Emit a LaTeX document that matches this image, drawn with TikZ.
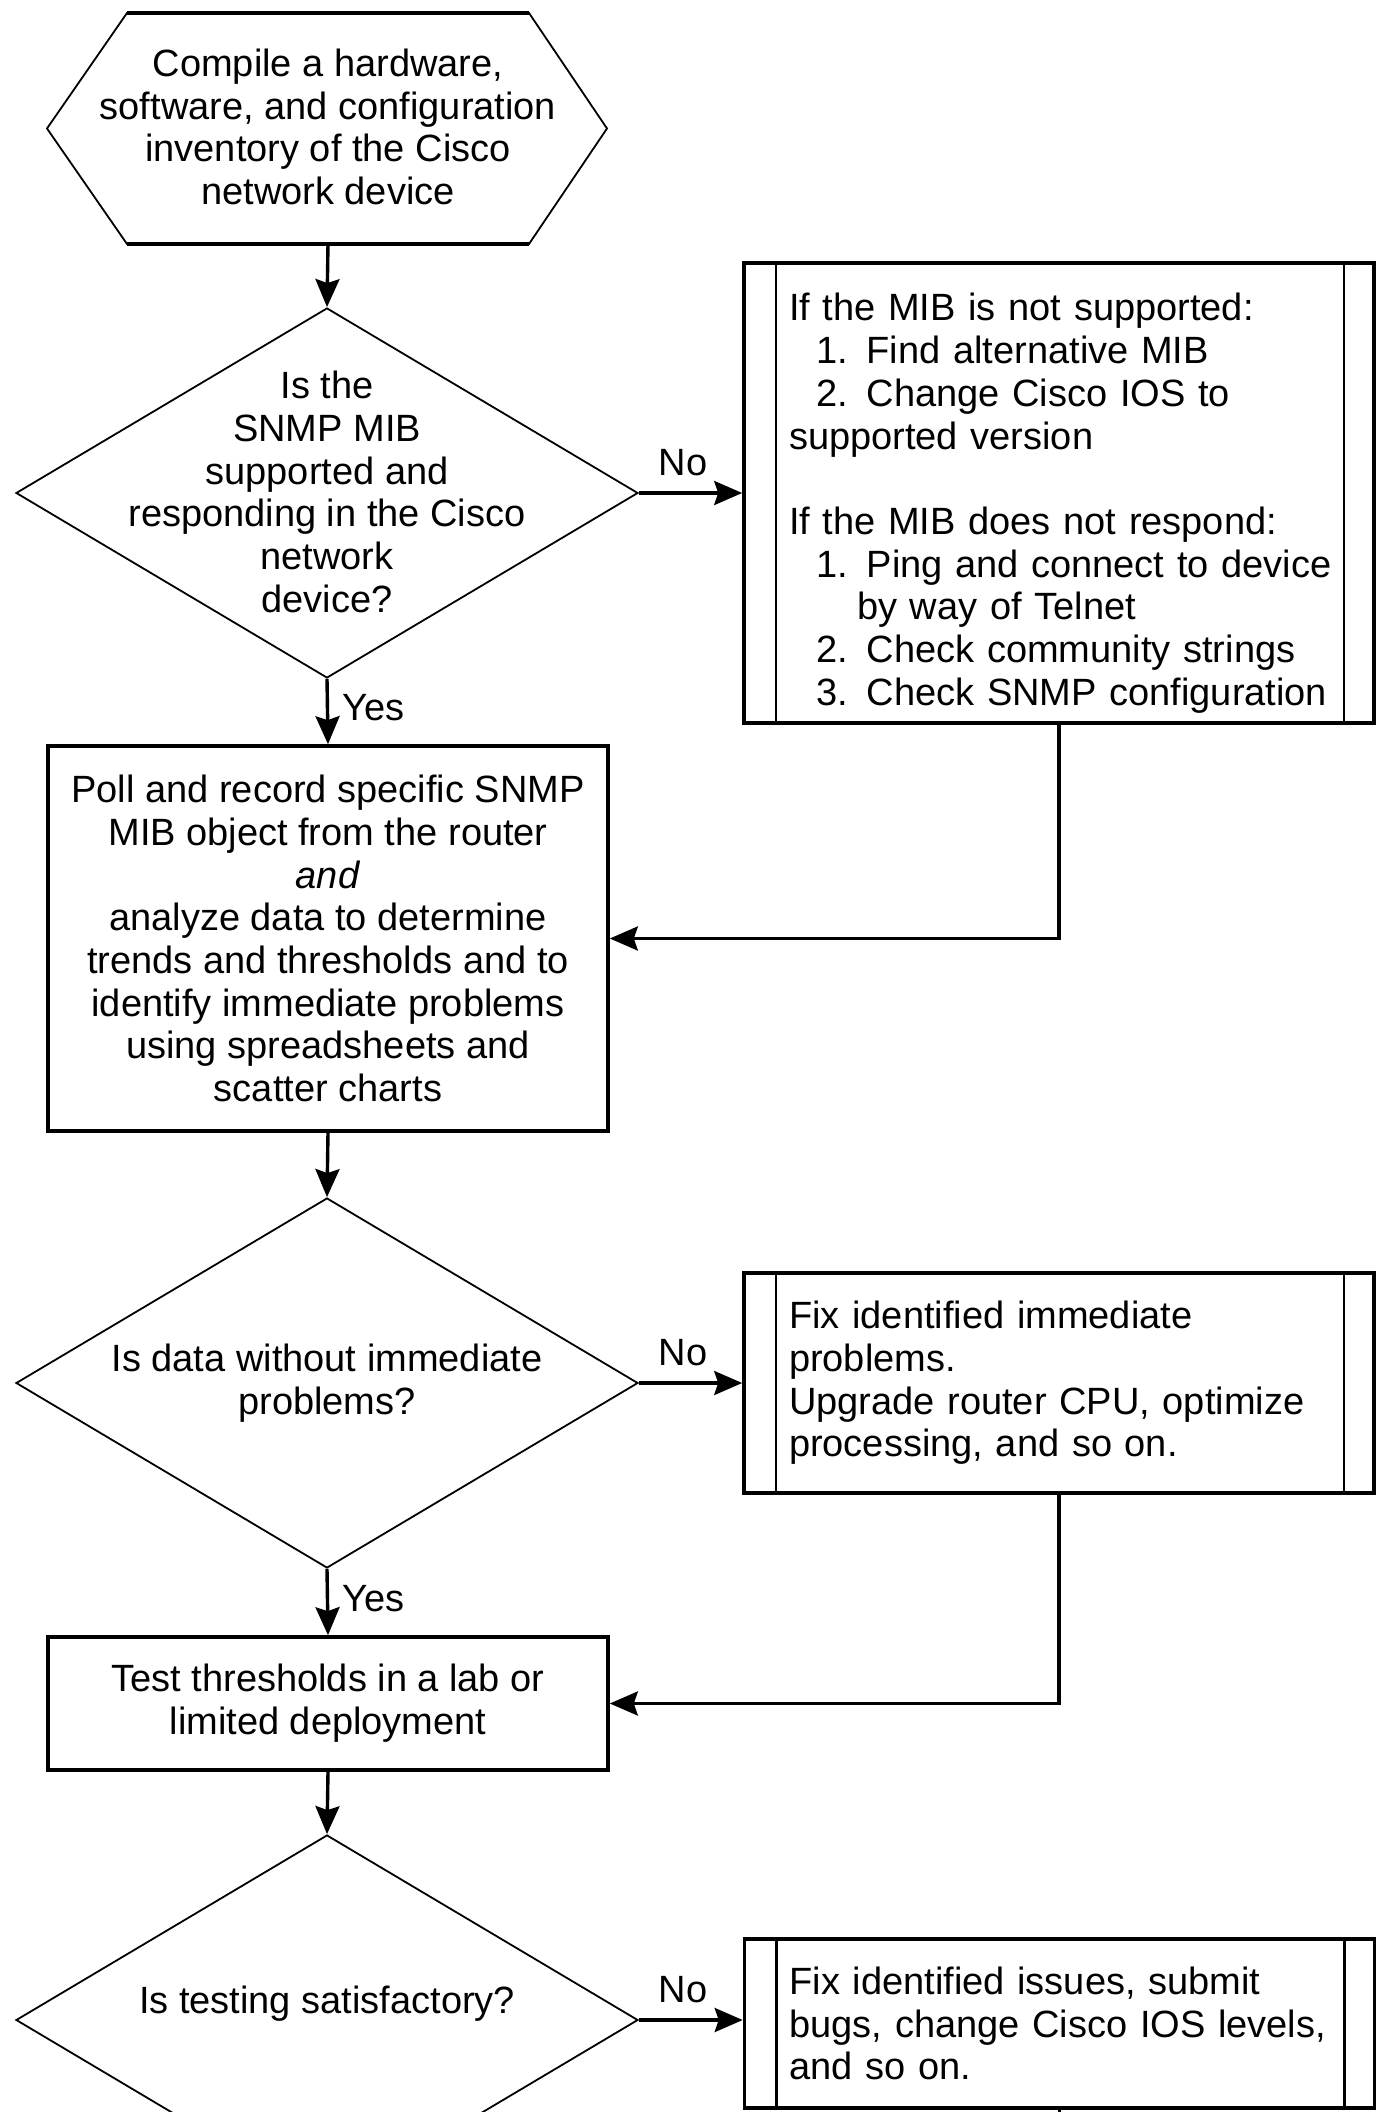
\documentclass[tikz,border=0pt]{standalone}
\usepackage{fontspec}
\setmainfont{Liberation Sans}
\usetikzlibrary{shapes.geometric,arrows.meta}
\begin{document}
\tikzset{
  txt/.style={font=\fontsize{19pt}{21.35pt}\selectfont},
  box/.style={draw, rectangle, line width=1.8pt, minimum width=280pt, align=center, txt, inner sep=0pt},
  proc/.style={draw, rectangle, line width=1.8pt, minimum width=315pt, text width=270pt,
    inner xsep=22.5pt, inner ysep=0pt, align=left, txt,
    path picture={
      \draw[line width=1.4pt] ([xshift=16pt]path picture bounding box.north west) -- ([xshift=16pt]path picture bounding box.south west);
      \draw[line width=1.4pt] ([xshift=-15pt]path picture bounding box.north east) -- ([xshift=-15pt]path picture bounding box.south east);
    }},
  decision/.style={draw, diamond, line width=0.9pt, minimum width=311pt, minimum height=185pt, inner sep=0pt},
  conn/.style={line width=1.7pt, -{Stealth[length=14pt,width=12pt,inset=2pt]}},
  plain/.style={line width=1.7pt},
  lbl/.style={txt, inner sep=0pt},
  dtext/.style={txt, align=center, inner sep=0pt},
}
\begin{tikzpicture}[x=0.5pt,y=-0.5pt]
\useasboundingbox (0,0) rectangle (1377,2112);
\fill[white] (0,0) rectangle (1377,2112);
\clip (0,0) rectangle (1377,2112);

% start hexagon
\draw[line width=0.9pt] (127,13) -- (529,13) -- (607,128.5) -- (529,244) -- (127,244) -- (47,128.5) -- cycle;
\draw[line width=1.8pt] (127,13) -- (529,13) (127,244) -- (529,244);
\node[dtext] (start) at (328,127) {Compile a hardware,\\ software, and configuration\\ inventory of the Cisco\\ network device};
\coordinate (startbot) at (328,244);

% decision 1
\node[decision] (d1) at (327,493) {};
\node[dtext] (d1t) at (327,492) {Is the\\ SNMP MIB\\ supported and\\ responding in the Cisco\\ network\\ device?};

% process 1
\node[proc, minimum height=230pt] (p1) at (1059,493) {\mbox{\rule{0pt}{24pt}If the MIB is not supported:}\\
\mbox{\hspace*{13.5pt}1. Find alternative MIB}\\
\mbox{\hspace*{13.5pt}2. Change Cisco IOS to}\\
\mbox{supported version}\\[21.35pt]
\mbox{If the MIB does not respond:}\\
\mbox{\hspace*{13.5pt}1. Ping and connect to device}\\
\mbox{\hspace*{34pt}by way of Telnet}\\
\mbox{\hspace*{13.5pt}2. Check community strings}\\
\mbox{\hspace*{13.5pt}3. Check SNMP configuration}};

% poll box
\node[box, minimum height=192.5pt] (poll) at (328,938.5) {Poll and record specific SNMP\\ MIB object from the router\\ \textit{and}\\ analyze data to determine\\ trends and thresholds and to\\ identify immediate problems\\ using spreadsheets and\\ scatter charts};

% decision 2
\node[decision] (d2) at (327,1383) {};
\node[dtext] (d2t) at (327,1383) {Is data without immediate\\ problems?};

% process 2
\node[proc, minimum height=110pt] (p2) at (1059,1383) {\mbox{Fix identified immediate}\\ \mbox{problems.}\\ \mbox{Upgrade router CPU, optimize}\\ \mbox{processing, and so on.}};

% test box
\node[box, minimum height=66.5pt] (test) at (328,1703.5) {Test thresholds in a lab or\\ limited deployment};

% decision 3
\node[decision] (d3) at (327,2020) {};
\node[dtext] (d3t) at (327,2004) {Is testing satisfactory?};

% process 3
\node[proc, minimum height=84.5pt] (p3) at (1059.5,2023.5) {\mbox{Fix identified issues, submit}\\ \mbox{bugs, change Cisco IOS levels,}\\ \mbox{and so on.}};
\coordinate (p3out) at (1059.5,2160);

% labels
\node[lbl] (no1) at (683,463) {No};
\node[lbl] (no2) at (683,1353) {No};
\node[lbl] (no3) at (683,1990) {No};
\node[lbl, anchor=west] (yes1) at (342,708) {Yes};
\node[lbl, anchor=west] (yes2) at (342,1599) {Yes};

% connectors
\draw[conn] (startbot) -- (d1.north);
\draw[conn] (d1.east) -- (p1.west);
\draw[conn] (d1.south) -- (poll.north);
\draw[conn] (p1.south) |- (poll.east);
\draw[conn] (poll.south) -- (d2.north);
\draw[conn] (d2.east) -- (p2.west);
\draw[conn] (d2.south) -- (test.north);
\draw[conn] (p2.south) |- (test.east);
\draw[conn] (test.south) -- (d3.north);
\draw[conn] (d3.east) -- (d3.east -| p3.west);
\draw[plain] (p3.south) -- (p3out);
\end{tikzpicture}
\end{document}
